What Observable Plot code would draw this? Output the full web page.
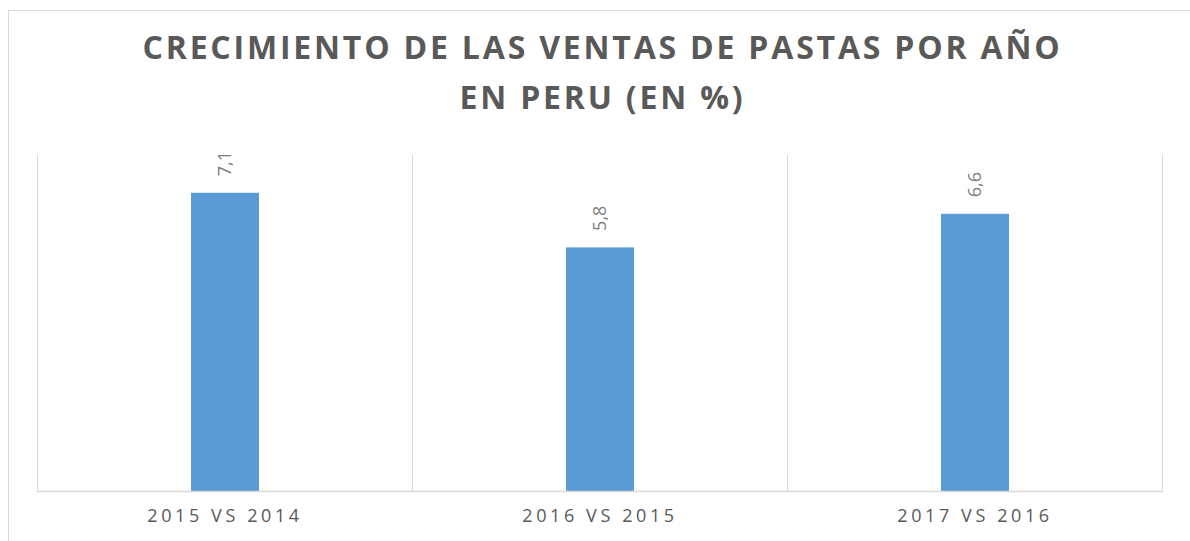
<!DOCTYPE html>
<html>
<head>
<meta charset="utf-8">
<script src="https://cdn.jsdelivr.net/npm/d3@7"></script>
<script src="https://cdn.jsdelivr.net/npm/@observablehq/plot@0.6"></script>
<style>
  html, body { margin: 0; padding: 0; background: #fff; }
  #wrap { position: relative; width: 1190px; height: 541px; overflow: hidden; font-family: "Open Sans", sans-serif; }
  #border { position: absolute; left: 8px; top: 10px; width: 1200px; height: 600px; border-left: 1px solid #d9d9d9; border-top: 1px solid #d9d9d9; box-sizing: border-box; }
  #title { position: absolute; left: 0; top: 22px; width: 1205px; text-align: center; font-weight: 700; font-size: 32px; letter-spacing: 2.8px; line-height: 50px; color: #595959; }
  #chart { position: absolute; left: 0; top: 130px; }
  #chart g[aria-label="fx-axis tick label"] text { letter-spacing: 3.6px; }
</style>
</head>
<body>
<div id="wrap">
  <div id="border"></div>
  <div id="title">CRECIMIENTO DE LAS VENTAS DE PASTAS POR AÑO<br>EN PERU (EN %)</div>
  <div id="chart"></div>
</div>
<script>
const categories = ["2015 VS 2014", "2016 VS 2015", "2017 VS 2016"];
const values = [7.1, 5.8, 6.6];
const valueLabels = ["7,1", "5,8", "6,6"];
const yDomain = [0, 8];

const data = categories.map((c, i) => ({cat: c, value: values[i], label: valueLabels[i]}));

const chart = Plot.plot({
  width: 1190,
  height: 411,
  marginTop: 25,
  marginBottom: 50,
  marginLeft: 36,
  marginRight: 27,
  style: {fontFamily: "Open Sans, sans-serif", background: "transparent"},
  fx: {domain: categories, padding: 0, label: null},
  x: {domain: ["bar"], paddingOuter: 2.22, paddingInner: 0, axis: null},
  y: {domain: yDomain, axis: null},
  marks: [
    Plot.frame({anchor: "left", stroke: "#d9d9d9", strokeWidth: 1}),
    Plot.frame({anchor: "right", stroke: "#d9d9d9", strokeWidth: 1}),
    Plot.barY(data, {fx: "cat", x: () => "bar", y: "value", fill: "#5b9bd5"}),
    Plot.ruleY([0], {stroke: "#d9d9d9", strokeWidth: 1.5}),
    Plot.text(data, {fx: "cat", x: () => "bar", y: "value", text: "label", rotate: -90, textAnchor: "start", dy: -17, fontSize: 18, fill: "#7f7f7f"}),
    Plot.axisFx({anchor: "bottom", tickSize: 0, tickPadding: 18, label: null, fontSize: 18, fill: "#595959"})
  ]
});
document.getElementById("chart").appendChild(chart);
</script>
</body>
</html>
